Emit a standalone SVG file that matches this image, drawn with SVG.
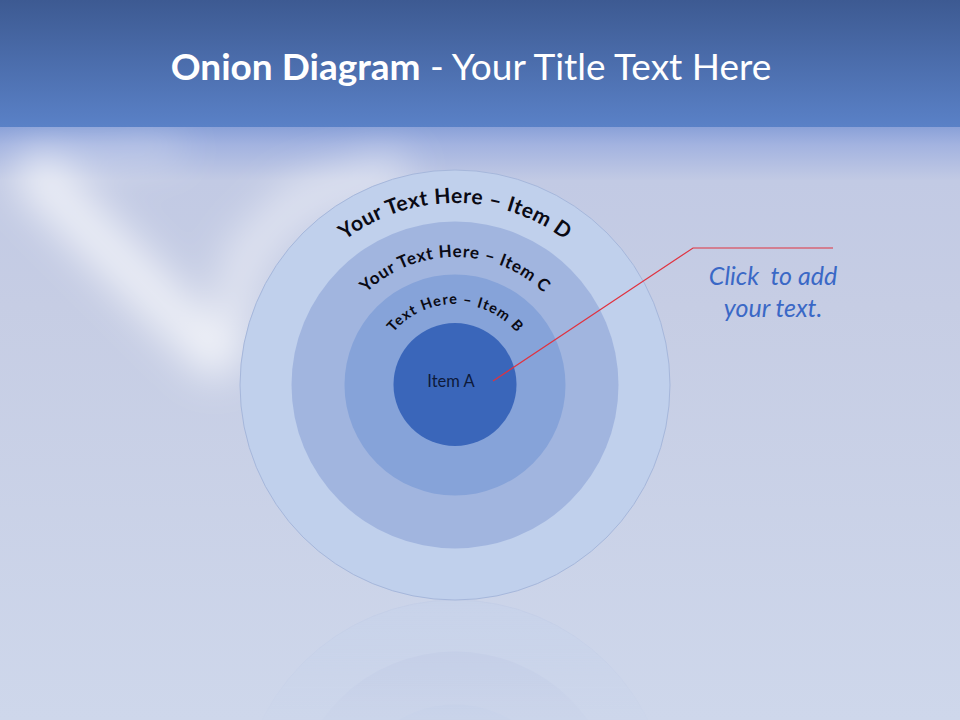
<svg xmlns="http://www.w3.org/2000/svg" width="960" height="720" viewBox="0 0 960 720">
  <defs>
    <linearGradient id="hdr" x1="0" y1="0" x2="0" y2="1">
      <stop offset="0" stop-color="#3D5A92"/>
      <stop offset="1" stop-color="#5A81C7"/>
    </linearGradient>
    <linearGradient id="bg" gradientUnits="userSpaceOnUse" x1="0" y1="127" x2="0" y2="720">
      <stop offset="0" stop-color="#8AA1D8"/>
      <stop offset="0.03" stop-color="#A3B3E0"/>
      <stop offset="0.09" stop-color="#C2CAE4"/>
      <stop offset="0.3" stop-color="#C6CDE4"/>
      <stop offset="1" stop-color="#CED7EB"/>
    </linearGradient>
    <linearGradient id="refl" x1="0" y1="0" x2="0" y2="1">
      <stop offset="0" stop-color="#fff" stop-opacity="0.9"/>
      <stop offset="1" stop-color="#fff" stop-opacity="0.2"/>
    </linearGradient>
    <mask id="reflMask" maskUnits="userSpaceOnUse" x="0" y="600" width="960" height="120">
      <rect x="0" y="600" width="960" height="120" fill="url(#refl)"/>
    </mask>
    <filter id="blur" x="-50%" y="-50%" width="200%" height="200%">
      <feGaussianBlur stdDeviation="20"/>
    </filter>
    <path id="arcD" d="M 273 385 A 182 182 0 0 1 637 385"/>
    <path id="arcC" d="M 327 385 A 128 128 0 0 1 583 385"/>
    <path id="arcB" d="M 374 385 A 81 81 0 0 1 536 385"/>
    <style>
      .arc { font-family: Lato, "Open Sans", "Liberation Sans", sans-serif; font-weight: bold; fill: #0A0A14; }
      .ring { stroke: none; }
    </style>
  </defs>

  <!-- background -->
  <rect x="0" y="0" width="960" height="720" fill="url(#bg)"/>
  <g filter="url(#blur)" fill="none" stroke="#FFFFFF" stroke-linecap="round">
    <path d="M 40 180 L 215 355" stroke-width="46" opacity="0.7"/>
    <path d="M 225 345 L 245 255 L 300 200 L 390 172" stroke-width="38" opacity="0.5"/>
    <path d="M 30 160 L 170 150" stroke-width="28" opacity="0.3"/>
  </g>
  <rect x="0" y="0" width="960" height="127" fill="url(#hdr)"/>

  <!-- title -->
  <text x="471" y="80" text-anchor="middle" font-family="Lato, 'Open Sans', 'Liberation Sans', sans-serif" font-size="37" fill="#FFFFFF"><tspan font-weight="bold">Onion Diagram</tspan> - Your Title Text Here</text>

  <!-- reflection -->
  <g id="reflection" mask="url(#reflMask)" opacity="0.35">
    <circle cx="455" cy="815" r="215" fill="#C0D0EC" stroke="#B3C2E3" stroke-width="1"/>
    <circle cx="455" cy="815" r="163.5" fill="#A8B9E0"/>
    <circle cx="455" cy="815" r="110.5" fill="#8CA8DA"/>
  </g>

  <!-- onion rings -->
  <g id="item-d">
    <circle class="ring" cx="455" cy="385" r="215" fill="#C0D0EC" style="stroke:#A6B7DB;stroke-width:1"/>
    <text class="arc" font-size="21" textLength="236" lengthAdjust="spacing"><textPath href="#arcD" startOffset="50%" text-anchor="middle">Your Text Here – Item D</textPath></text>
  </g>
  <g id="item-c">
    <circle class="ring" cx="455" cy="385" r="163.5" fill="#A1B5DF"/>
    <text class="arc" font-size="17" textLength="196" lengthAdjust="spacing"><textPath href="#arcC" startOffset="50%" text-anchor="middle">Your Text Here – Item C</textPath></text>
  </g>
  <g id="item-b">
    <circle class="ring" cx="455" cy="385" r="110.5" fill="#86A3D9"/>
    <text class="arc" font-size="14.5" textLength="140" lengthAdjust="spacing"><textPath href="#arcB" startOffset="50%" text-anchor="middle">Text Here – Item B</textPath></text>
  </g>
  <g id="item-a">
    <circle class="ring" cx="455" cy="384.5" r="61.5" fill="#3A66BA"/>
    <text x="451" y="387" text-anchor="middle" font-family="Lato, 'Open Sans', 'Liberation Sans', sans-serif" font-size="16.5" fill="#0D1A3A">Item A</text>
  </g>

  <!-- connector -->
  <g id="connectors">
    <polyline points="493,381 693,248 833,248" fill="none" stroke="#E0323F" stroke-width="1.2"/>
  </g>

  <!-- callout -->
  <g id="callout">
    <text text-anchor="middle" font-family="Lato, 'Open Sans', 'Liberation Sans', sans-serif" font-style="italic" font-size="25" fill="#3A68C6"><tspan x="773" y="285" xml:space="preserve">Click  to add</tspan><tspan x="773" y="317">your text.</tspan></text>
  </g>
</svg>
